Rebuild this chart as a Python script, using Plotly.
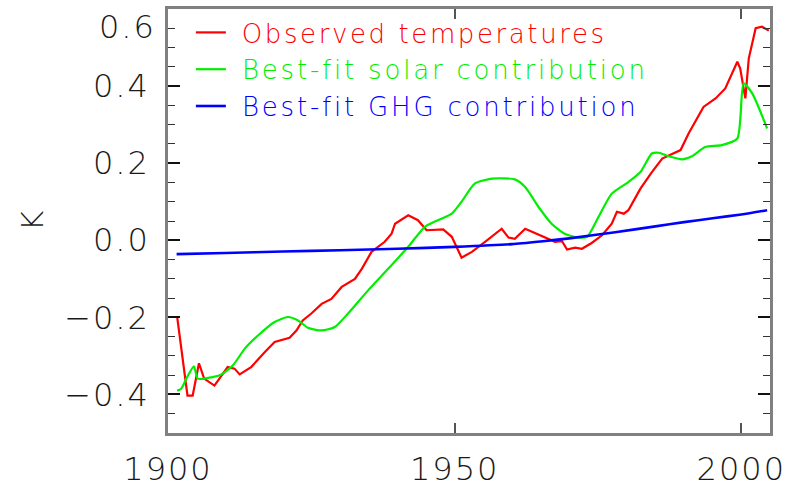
import plotly.graph_objects as go

# Observed global temperature anomaly (K)
obs_years = [1901.6, 1903.4, 1904.3, 1905.4, 1906.3, 1908.1, 1910.4, 1911.6, 1912.5, 1914.5,
             1916.9, 1918.6, 1921.2, 1922.4, 1923.5, 1925.0, 1926.8, 1928.5, 1930.3, 1932.6,
             1933.8, 1935.5, 1937.8, 1939.0, 1939.6, 1941.9, 1943.6, 1945.1, 1948.0, 1949.5,
             1951.2, 1953.0, 1955.3, 1957.0, 1958.2, 1959.4, 1960.5, 1962.3, 1964.0, 1965.8,
             1967.5, 1968.7, 1969.6, 1971.0, 1972.2, 1973.9, 1975.7, 1977.4, 1978.3, 1979.5,
             1980.3, 1982.4, 1984.4, 1986.2, 1988.2, 1989.4, 1990.8, 1993.4, 1995.5, 1997.2,
             1999.3, 1999.8, 2000.7, 2001.3, 2002.5, 2003.6, 2004.8]
obs_values = [-0.199, -0.403, -0.403, -0.319, -0.359, -0.377, -0.329, -0.333, -0.348, -0.329,
              -0.290, -0.264, -0.253, -0.234, -0.208, -0.190, -0.165, -0.152, -0.121, -0.100,
              -0.074, -0.030, -0.004, 0.017, 0.043, 0.065, 0.052, 0.026, 0.028, 0.009,
              -0.045, -0.030, -0.004, 0.017, 0.030, 0.007, 0.004, 0.030, 0.019, 0.009,
              -0.004, -0.002, -0.024, -0.019, -0.022, -0.007, 0.013, 0.043, 0.074, 0.069,
              0.078, 0.134, 0.177, 0.212, 0.225, 0.234, 0.277, 0.346, 0.368, 0.394,
              0.463, 0.446, 0.368, 0.472, 0.550, 0.554, 0.544]

# Best-fit solar contribution (K)
solar_years = [1901.6, 1902.3, 1903.2, 1904.5, 1905.2, 1907.0, 1909.3, 1911.3, 1913.4, 1915.7,
               1918.6, 1920.9, 1922.7, 1924.4, 1926.8, 1929.1, 1931.4, 1934.9, 1938.4, 1941.9,
               1944.8, 1947.7, 1949.5, 1951.2, 1953.5, 1956.5, 1960.5, 1962.3, 1964.6, 1966.9,
               1969.3, 1971.6, 1973.1, 1975.1, 1977.4, 1980.3, 1982.4, 1984.4, 1985.6, 1987.3,
               1989.7, 1991.4, 1993.7, 1996.6, 1999.3, 2000.4, 2001.9, 2004.5]
solar_values = [-0.390, -0.385, -0.359, -0.327, -0.359, -0.357, -0.348, -0.325, -0.281, -0.247,
                -0.212, -0.199, -0.208, -0.227, -0.234, -0.225, -0.190, -0.130, -0.074, -0.017,
                0.035, 0.056, 0.069, 0.100, 0.147, 0.160, 0.158, 0.138, 0.087, 0.043,
                0.016, 0.007, 0.009, 0.061, 0.121, 0.151, 0.177, 0.225, 0.227, 0.218,
                0.210, 0.218, 0.242, 0.247, 0.264, 0.407, 0.381, 0.290]

# Best-fit greenhouse-gas contribution (K)
ghg_years = [1901.5, 1910, 1920, 1930, 1940, 1950, 1960, 1965, 1970, 1978,
             1985, 1990, 1995, 2000, 2004.5]
ghg_values = [-0.036, -0.033, -0.029, -0.026, -0.022, -0.017, -0.010, -0.003, 0.005, 0.021,
              0.036, 0.047, 0.057, 0.067, 0.078]

x_ticks = [1900, 1950, 2000]
y_ticks = [-0.4, -0.2, 0.0, 0.2, 0.4]
y_ticklabels = ["\u22120.4", "\u22120.2", "0.0", "0.2", "0.4"]

FONT = "DejaVu Sans"
TXT = "#1a1a1a"


def spaced(text, color=None, gap=2):
    style = f"letter-spacing:{gap}px"
    if color is not None:
        style = f"color:{color};" + style
    return f"<span style='{style}'>{text}</span>"


fig = go.Figure()
fig.add_trace(go.Scatter(
    x=obs_years, y=obs_values, mode="lines",
    line=dict(color="#ff0000", width=2.2),
    name=spaced(" Observed temperatures", "#ff0000", 2.6)))
fig.add_trace(go.Scatter(
    x=solar_years, y=solar_values, mode="lines",
    line=dict(color="#00ee00", width=2.2, shape="spline", smoothing=0.6),
    name=spaced(" Best-fit solar contribution", "#00ee00", 2.8)))
fig.add_trace(go.Scatter(
    x=ghg_years, y=ghg_values, mode="lines",
    line=dict(color="#0000ff", width=2.6, shape="spline", smoothing=0.6),
    name=spaced(" Best-fit GHG contribution", "#0000ff", 2.8)))

fig.update_xaxes(
    range=[1900, 2005], tickvals=x_ticks, ticktext=[spaced(str(v)) for v in x_ticks],
    showgrid=False, zeroline=False, automargin=False,
    showline=True, linecolor="#808080", linewidth=2.5, mirror="ticks",
    ticks="inside", ticklen=10, tickwidth=1.5, tickcolor="#555555",
    ticklabelstandoff=6,
    tickfont=dict(family=FONT, size=32, color=TXT, weight=300))
fig.update_yaxes(
    range=[-0.5, 0.6], tickvals=y_ticks, ticktext=[spaced(t) for t in y_ticklabels],
    showgrid=False, zeroline=False, automargin=False,
    showline=True, linecolor="#808080", linewidth=2.5, mirror="ticks",
    ticks="inside", ticklen=12, tickwidth=1.5, tickcolor="#111111",
    minor=dict(dtick=0.05, tick0=0, ticks="inside", ticklen=7, tickwidth=1.2,
               tickcolor="#333333"),
    ticklabelstandoff=9,
    tickfont=dict(family=FONT, size=32, color=TXT, weight=300))

# Top tick label sits just inside the frame so it is not clipped
fig.add_annotation(text=spaced("0.6"), xref="paper", x=0, xanchor="right", xshift=-10,
                   yref="y", y=0.6, yanchor="middle", yshift=-18, showarrow=False,
                   font=dict(family=FONT, size=32, color=TXT, weight=300))
# Axis unit
fig.add_annotation(text="K", xref="paper", x=0, xanchor="center", xshift=-136,
                   yref="paper", y=0.5, yanchor="middle", textangle=-90, showarrow=False,
                   font=dict(family=FONT, size=31, color=TXT, weight=300))

fig.update_layout(
    width=797, height=495,
    margin=dict(l=168, r=27, t=9, b=62, autoexpand=False),
    paper_bgcolor="white", plot_bgcolor="white",
    showlegend=True,
    legend=dict(x=0.038, y=1.0, xanchor="left", yanchor="top",
                bgcolor="rgba(0,0,0,0)", borderwidth=0,
                font=dict(family=FONT, size=26, weight=300), tracegroupgap=0),
)

fig.write_html("out.html")
